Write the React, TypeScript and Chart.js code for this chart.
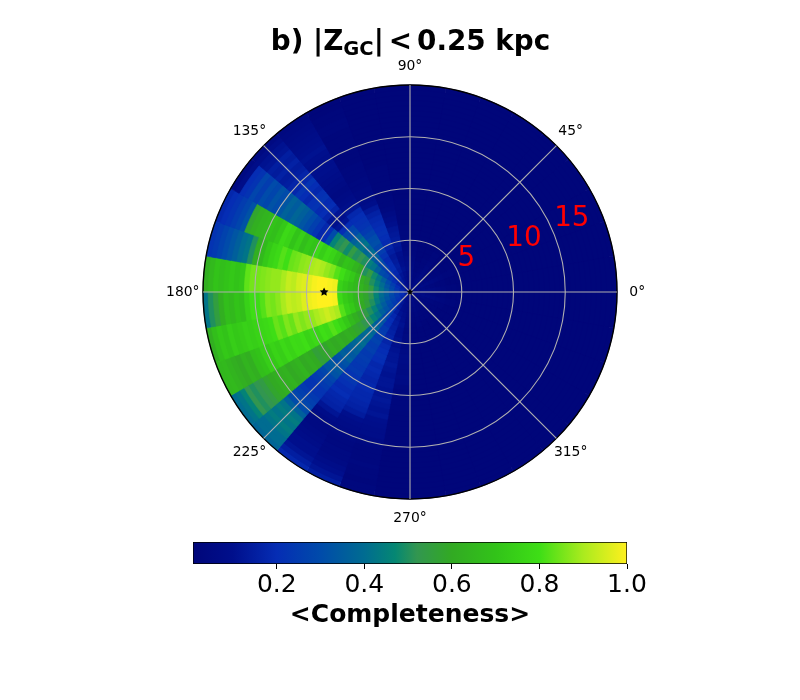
import React, { useEffect, useRef } from "react";
import { Chart, registerables } from "chart.js";

Chart.register(...registerables);

const FONT = '"DejaVu Sans"';

// Mean completeness by 10 degree azimuth sector (name = sector start) and 0.5 kpc radial bin (center to edge).
const s90 = [.06,.05,.06,.07,.09,.08,.07,.05,.04,.04, .03,.03,.03,.02,.02,.02,.02,.02,.01,.01, .01,.01,.01,.01,.01,.01,.01,.01,.01,.01, .01,.01,.01,.01,.01,.01,.01,.01,.01,.01];
const s100 = [.07,.08,.09,.1,.11,.1,.09,.1,.12,.13, .14,.13,.12,.1,.08,.06,.04,.03,.03,.02, .02,.02,.02,.02,.02,.01,.01,.01,.01,.01, .01,.01,.01,.01,.01,.01,.01,.01,.01,.01];
const s110 = [.08,.1,.11,.12,.14,.15,.14,.13,.15,.17, .19,.2,.21,.2,.19,.18,.16,.13,.09,.07, .05,.05,.04,.04,.03,.03,.03,.02,.02,.02, .02,.02,.02,.02,.03,.03,.02,.02,.01,.01];
const s120 = [.1,.12,.14,.16,.18,.2,.2,.19,.22,.25, .28,.31,.3,.27,.24,.22,.21,.2,.18,.12, .09,.07,.06,.05,.06,.07,.08,.09,.1,.1, .09,.1,.11,.1,.09,.08,.07,.06,.05,.04];
const s130 = [.1,.13,.15,.18,.2,.23,.26,.28,.32,.36, .4,.38,.42,.4,.36,.3,.28,.2,.12,.1, .12,.17,.2,.19,.22,.21,.18,.2,.22,.18, .17,.15,.14,.16,.14,.15,.12,.11,.08,.05];
const s140 = [.12,.14,.17,.2,.24,.28,.3,.36,.42,.45, .5,.52,.5,.54,.48,.52,.5,.46,.3,.2, .18,.22,.26,.3,.33,.36,.38,.35,.37,.33, .3,.32,.28,.3,.25,.28,.22,.2,.08,.05];
const s150 = [.13,.16,.2,.25,.3,.36,.42,.48,.54,.5, .6,.64,.68,.7,.65,.72,.76,.78,.74,.78, .7,.72,.68,.74,.7,.76,.78,.72,.68,.7, .65,.64,.62,.58,.32,.28,.25,.22,.2,.18];
const s160 = [.14,.18,.22,.28,.33,.4,.45,.5,.58,.62, .66,.72,.75,.8,.82,.86,.88,.9,.91,.9, .88,.87,.85,.84,.8,.82,.78,.76,.72,.66, .62,.5,.42,.4,.36,.33,.3,.27,.24,.22];
const s170 = [.16,.2,.25,.3,.36,.42,.48,.55,.6,.64, .66,.68,.72,.75,.98,.99,1,1,.99,.97, .96,.95,.92,.93,.9,.88,.88,.87,.86,.85, .85,.83,.72,.7,.72,.7,.68,.7,.66,.62];
const s180 = [.16,.2,.24,.3,.35,.4,.46,.52,.58,.62, .65,.7,.73,.78,.99,1,1,1,.99,.98, .96,.93,.92,.93,.9,.87,.85,.86,.82,.79, .8,.75,.68,.7,.66,.68,.62,.55,.5,.42];
const s190 = [.15,.2,.24,.28,.33,.38,.44,.5,.56,.6, .66,.72,.75,.82,.9,.92,.94,.92,.9,.88, .88,.86,.88,.84,.86,.82,.84,.8,.78,.77, .76,.74,.75,.73,.72,.74,.7,.72,.68,.62];
const s200 = [.14,.18,.22,.26,.3,.35,.4,.46,.5,.54, .58,.62,.66,.72,.76,.8,.82,.78,.8,.76, .78,.76,.8,.78,.79,.76,.78,.74,.76,.72, .74,.7,.68,.62,.64,.6,.62,.64,.66,.65];
const s210 = [.12,.16,.2,.24,.28,.32,.36,.42,.46,.5, .52,.56,.58,.6,.62,.6,.62,.6,.62,.58, .58,.56,.6,.62,.6,.64,.62,.6,.63,.62, .62,.6,.58,.54,.52,.5,.52,.46,.42,.4];
const s220 = [.1,.14,.17,.2,.23,.26,.28,.32,.34,.38, .38,.4,.38,.4,.38,.36,.34,.36,.32,.3, .34,.32,.28,.26,.24,.22,.22,.24,.26,.28, .3,.36,.42,.44,.42,.44,.42,.4,.4,.38];
const s230 = [.08,.1,.12,.13,.15,.18,.2,.21,.24,.25, .25,.27,.25,.26,.24,.25,.24,.23,.24,.22, .23,.21,.19,.2,.18,.17,.16,.12,.08,.06, .05,.05,.06,.07,.08,.1,.1,.12,.15,.18];
const s240 = [.07,.08,.09,.1,.11,.13,.14,.15,.16,.17, .17,.19,.2,.21,.2,.18,.19,.18,.17,.18, .19,.18,.18,.17,.16,.14,.1,.08,.07,.06, .05,.04,.04,.05,.05,.06,.08,.1,.12,.15];
const s250 = [.06,.07,.08,.08,.09,.1,.11,.1,.1,.11, .1,.11,.12,.12,.13,.12,.11,.12,.12,.11, .12,.13,.12,.11,.12,.1,.09,.08,.08,.06, .04,.03,.03,.03,.04,.03,.03,.02,.03,.03];
const s260 = [.05,.05,.06,.06,.06,.05,.05,.04,.05,.05, .05,.06,.07,.07,.06,.06,.07,.06,.04,.03, .03,.03,.03,.02,.02,.02,.02,.02,.02,.02, .01,.01,.01,.01,.01,.01,.01,.01,.01,.01];
const quietA = [.05,.06,.05,.04,.03,.02,.02,.01,.01,.01, .01,.01,.01,.01,.01,.01,.01,.01,.01,.01, .01,.01,.01,.01,.01,.01,.01,.01,.01,.01, .01,.01,.01,.01,.01,.01,.01,.01,.01,.01];
const quietB = [.06,.07,.07,.06,.05,.04,.03,.02,.02,.01, .01,.01,.01,.01,.01,.01,.01,.01,.01,.01, .01,.01,.01,.01,.01,.01,.01,.01,.01,.01, .01,.01,.01,.01,.01,.01,.01,.01,.01,.01];
const quietC = [.04,.04,.03,.03,.02,.02,.01,.01,.01,.01, .01,.01,.01,.01,.01,.01,.01,.01,.01,.01, .01,.01,.01,.01,.01,.01,.01,.01,.01,.01, .01,.01,.01,.01,.01,.01,.01,.01,.01,.01];

// Sectors in ascending azimuth, starting at 0 degrees.
const sectorsByAzimuth = [
  quietB, quietA, quietB, quietA, quietC, quietB, quietA, quietC, quietB,
  s90, s100, s110, s120, s130, s140, s150, s160, s170,
  s180, s190, s200, s210, s220, s230, s240, s250, s260,
  quietC, quietA, quietC, quietC, quietA, quietC, quietA, quietB, quietA,
];

const RADIAL_BIN = 0.5;
const R_MAX = 20;
const azimuthLabels = [0, 45, 90, 135, 180, 225, 270, 315];
const ringLabels = [
  { text: "5", r: 6.35, az: 32 },
  { text: "10", r: 12.2, az: 26 },
  { text: "15", r: 17.2, az: 25 },
];
const starPosition = { r: 8.3, az: 180 };

const colorStops: [number, number[]][] = [
  [0.0, [0, 5, 120]],
  [0.1, [0, 15, 140]],
  [0.2, [5, 45, 180]],
  [0.3, [0, 75, 170]],
  [0.4, [0, 108, 145]],
  [0.47, [5, 135, 115]],
  [0.52, [50, 150, 80]],
  [0.6, [50, 170, 35]],
  [0.7, [50, 195, 25]],
  [0.8, [62, 222, 22]],
  [0.9, [170, 235, 30]],
  [1.0, [255, 240, 30]],
];
const colorbarTicks = [0.2, 0.4, 0.6, 0.8, 1.0];
const colorbarMin = 0.0086;
const colorbarMax = 1.0;

function colorOf(v: number): string {
  for (let i = 1; i < colorStops.length; i++) {
    const [p1, c1] = colorStops[i];
    if (v <= p1) {
      const [p0, c0] = colorStops[i - 1];
      const t = (v - p0) / (p1 - p0);
      return `rgb(${c0.map((c, k) => Math.round(c + (c1[k] - c) * t)).join(",")})`;
    }
  }
  return "rgb(255,240,30)";
}

function drawStar(ctx: CanvasRenderingContext2D, x: number, y: number, rad: number) {
  ctx.beginPath();
  for (let i = 0; i < 10; i++) {
    const a = -Math.PI / 2 + (i * Math.PI) / 5;
    const d = i % 2 === 0 ? rad : rad * 0.5;
    const px = x + d * Math.cos(a);
    const py = y + d * Math.sin(a);
    if (i === 0) ctx.moveTo(px, py);
    else ctx.lineTo(px, py);
  }
  ctx.closePath();
  ctx.fillStyle = "#000";
  ctx.fill();
}

const overlayPlugin = {
  id: "polarOverlay",
  afterDraw(chart: any) {
    const ctx: CanvasRenderingContext2D = chart.ctx;
    const scale = chart.scales.r;
    const at = (r: number, az: number) => {
      const d = scale.getDistanceFromCenterForValue(r);
      const a = (az * Math.PI) / 180;
      return { x: scale.xCenter + d * Math.cos(a), y: scale.yCenter - d * Math.sin(a) };
    };
    ctx.save();
    ctx.textAlign = "center";
    ctx.textBaseline = "middle";
    ctx.fillStyle = "#000";
    ctx.font = `13.9px ${FONT}`;
    azimuthLabels.forEach((az) => {
      const p = at(az === 90 ? 21.82 : az === 270 ? 21.9 : 21.95, az);
      ctx.fillText(`${az}\u00b0`, p.x, p.y);
    });
    ctx.fillStyle = "#ff0000";
    ctx.font = `27.8px ${FONT}`;
    ringLabels.forEach((l) => {
      const p = at(l.r, l.az);
      ctx.fillText(l.text, p.x + 0.5, p.y + 2);
    });
    const s = at(starPosition.r, starPosition.az);
    drawStar(ctx, s.x, s.y, 4.6);
    drawStar(ctx, scale.xCenter, scale.yCenter, 3.4);

    // Title with a subscript, as separate runs of real text
    const big = `bold 27.8px ${FONT}`;
    const small = `bold 19.5px ${FONT}`;
    const runs = [
      { t: "b) |Z", f: big, dy: 0, gap: 0 },
      { t: "GC", f: small, dy: 4.5, gap: 0 },
      { t: "|", f: big, dy: 0, gap: 5 },
      { t: "<", f: big, dy: 0, gap: 5 },
      { t: "0.25 kpc", f: big, dy: 0, gap: 0 },
    ];
    ctx.textAlign = "left";
    ctx.textBaseline = "alphabetic";
    ctx.fillStyle = "#000";
    let total = 0;
    runs.forEach((run) => {
      ctx.font = run.f;
      total += ctx.measureText(run.t).width + run.gap;
    });
    let x = 410.5 - total / 2;
    runs.forEach((run) => {
      ctx.font = run.f;
      ctx.fillText(run.t, x, 50 + run.dy);
      x += ctx.measureText(run.t).width + run.gap;
    });
    ctx.restore();
  },
};

export default function App() {
  const polarRef = useRef<HTMLCanvasElement>(null);
  const barRef = useRef<HTMLCanvasElement>(null);

  useEffect(() => {
    const ringCount = sectorsByAzimuth[0].length;
    // Clockwise from east, so reverse the ascending azimuth order.
    const clockwise = sectorsByAzimuth.map((_, i) => sectorsByAzimuth[(36 - 1 - i + 36) % 36]);
    const datasets = [];
    for (let ring = 0; ring < ringCount; ring++) {
      const colors = clockwise.map((row) => colorOf(row[ring]));
      datasets.push({
        data: clockwise.map(() => (ring + 1) * RADIAL_BIN),
        backgroundColor: colors,
        borderColor: colors,
        borderWidth: 0.7,
        angle: 10,
      });
    }
    const spokes = Array.from({ length: 72 }, (_, i) => String(i * 5));
    const polar = new Chart(polarRef.current!, {
      type: "polarArea",
      data: { labels: spokes, datasets },
      options: {
        responsive: false,
        animation: false,
        layout: { padding: { left: 203, right: 183, top: 85, bottom: 201 } },
        plugins: { legend: { display: false }, tooltip: { enabled: false } },
        scales: {
          r: {
            min: 0,
            max: R_MAX,
            startAngle: 90,
            ticks: { display: false, stepSize: 5 },
            pointLabels: { display: false },
            angleLines: {
              display: true,
              lineWidth: 1.1,
              color: (c: any) => (c.index % 9 === 0 ? "#b0b0b0" : "rgba(0,0,0,0)"),
            },
            grid: {
              z: 1,
              circular: true,
              lineWidth: (c: any) => (c.tick && c.tick.value === R_MAX ? 1.4 : 1.1),
              color: (c: any) => (c.tick && c.tick.value === R_MAX ? "#000" : "#b0b0b0"),
            },
          },
        },
      } as any,
      plugins: [overlayPlugin],
    } as any);

    const bar = new Chart(barRef.current!, {
      type: "bar",
      data: {
        labels: ["colorbar"],
        datasets: [
          {
            data: [[colorbarMin, colorbarMax]],
            barPercentage: 1,
            categoryPercentage: 1,
            borderColor: "#000",
            borderWidth: 1,
            borderSkipped: false,
            backgroundColor: (c: any) => {
              const area = c.chart.chartArea;
              if (!area) return "#000";
              const g = c.chart.ctx.createLinearGradient(area.left, 0, area.right, 0);
              const span = colorbarMax - colorbarMin;
              colorStops.forEach(([p, col]) => {
                if (p >= colorbarMin) g.addColorStop((p - colorbarMin) / span, `rgb(${col.join(",")})`);
              });
              g.addColorStop(0, colorOf(colorbarMin));
              return g;
            },
          },
        ],
      },
      options: {
        indexAxis: "y",
        responsive: false,
        animation: false,
        layout: { padding: { left: 43, right: 53, top: 12, bottom: 10 } },
        plugins: { legend: { display: false }, tooltip: { enabled: false } },
        scales: {
          y: { display: false },
          x: {
            type: "linear",
            min: colorbarMin,
            max: colorbarMax,
            afterBuildTicks: (axis: any) => {
              axis.ticks = colorbarTicks.map((value) => ({ value }));
            },
            afterFit: (axis: any) => {
              axis.height = 66;
            },
            border: { display: false },
            grid: { drawOnChartArea: false, drawTicks: true, tickLength: 5, color: "#000", tickColor: "#000" },
            ticks: {
              color: "#000",
              font: { family: FONT, size: 25 },
              padding: 1,
              maxRotation: 0,
              autoSkip: false,
              align: "center",
              callback: (v: any) => Number(v).toFixed(1),
            },
            title: {
              display: true,
              text: "<Completeness>",
              color: "#000",
              font: { family: FONT, size: 25, weight: "bold" },
              padding: { top: 0, bottom: 0 },
            },
          },
        },
      } as any,
    } as any);

    return () => {
      polar.destroy();
      bar.destroy();
    };
  }, []);

  return (
    <div style={{ position: "absolute", left: 0, top: 0, width: 800, height: 700, background: "#fff", overflow: "hidden" }}>
      <canvas ref={polarRef} width={800} height={700} style={{ position: "absolute", left: 0, top: 0 }} />
      <canvas ref={barRef} width={530} height={110} style={{ position: "absolute", left: 150, top: 530 }} />
    </div>
  );
}
